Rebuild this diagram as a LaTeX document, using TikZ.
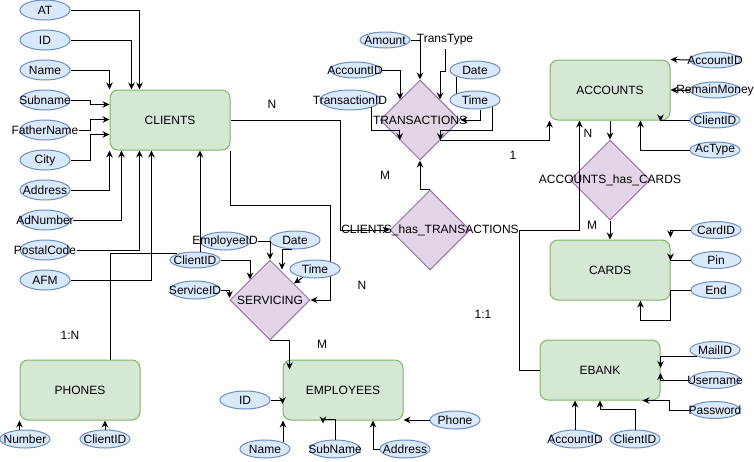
\documentclass[tikz,border=0pt]{standalone}
\usepackage{fontspec}
\setmainfont{Liberation Sans}
\usetikzlibrary{arrows.meta, shapes.geometric}
\definecolor{entfill}{HTML}{D5E8D4}
\definecolor{entline}{HTML}{82B366}
\definecolor{relfill}{HTML}{E1D5E7}
\definecolor{relline}{HTML}{9673A6}
\definecolor{attfill}{HTML}{DAE8FC}
\definecolor{attline}{HTML}{6C8EBF}
\newcommand*{\ovr}[1]{\makebox[0pt]{#1}}

\begin{document}
\begin{tikzpicture}[
        x=1pt, y=-1pt, line width=1pt, >={Stealth[length=7pt,width=6.5pt]},
        every node/.style={font=\fontsize{12}{14}\selectfont},
        entity/.style={draw=entline, fill=entfill, rounded corners=8pt, minimum width=120pt, minimum height=60pt},
        relation/.style={diamond, draw=relline, fill=relfill, minimum width=80pt, minimum height=80pt, inner sep=0pt},
        attr/.style={ellipse, draw=attline, fill=attfill, minimum width=50pt, minimum height=18pt, inner sep=0pt},
        ]
        \path[use as bounding box, fill=white] (0,0) rectangle (754,461);

        % entities
        \node[entity] (clients)   at (170,120) {CLIENTS};
        \node[entity] (accounts)  at (610,90)  {ACCOUNTS};
        \node[entity] (cards)     at (610,270) {CARDS};
        \node[entity] (ebank)     at (600,370) {EBANK};
        \node[entity] (phones)    at (80,390)  {PHONES};
        \node[entity] (employees) at (343,390) {EMPLOYEES};

        % relations
        \node[relation] (transactions)  at (420,120) {\ovr{TRANSACTIONS}};
        \node[relation] (clients_trans) at (430,230) {\ovr{CLIENTS\_has\_TRANSACTIONS}};
        \node[relation] (acc_cards)     at (610,180) {\ovr{ACCOUNTS\_has\_CARDS}};
        \node[relation] (servicing)     at (270,300) {\ovr{SERVICING}};

        % clients attributes
        \node[attr, minimum height=20pt] (c_at)         at (45,10)  {\ovr{AT}};
        \node[attr, minimum height=20pt] (c_id)         at (45,40)  {\ovr{ID}};
        \node[attr, minimum height=20pt] (c_name)       at (45,70)  {\ovr{Name}};
        \node[attr, minimum height=20pt] (c_subname)    at (45,100) {\ovr{Subname}};
        \node[attr, minimum height=20pt] (c_fathername) at (45,130) {\ovr{FatherName}};
        \node[attr, minimum height=20pt] (c_city)       at (45,160) {\ovr{City}};
        \node[attr, minimum height=20pt] (c_address)    at (45,190) {\ovr{Address}};
        \node[attr, minimum height=20pt] (c_adnumber)   at (45,220) {\ovr{AdNumber}};
        \node[attr, minimum height=20pt] (c_postalcode) at (45,250) {\ovr{PostalCode}};
        \node[attr, minimum height=20pt] (c_afm)        at (45,280) {\ovr{AFM}};

        \draw[->] (c_at.east) -| ([xshift=30pt]clients.north west);
        \draw[->] (c_id.east) -| ([xshift=22pt]clients.north west);
        \draw[->] (c_name.east) -| (clients.north west);
        \draw[->] (c_subname.east) -- ++(20,0) |- ([yshift=-15pt]clients.north west);
        \draw[->] ([xshift=8pt]c_fathername.east) -- ++(12,0) |- ([yshift=-30pt]clients.north west);
        \draw[->] (c_city.east) -- ++(20,0) |- ([yshift=-45pt]clients.north west);
        \draw[->] (c_address.east) -| (clients.south west);
        \draw[->] ([xshift=2pt]c_adnumber.east) -| ([xshift=12pt]clients.south west);
        \draw[->] ([xshift=6pt]c_postalcode.east) -| ([xshift=30pt]clients.south west);
        \draw[->] (c_afm.east) -| ([xshift=42pt]clients.south west);

        % transactions attributes
        \node[attr, minimum height=16pt] (t_amount) at (385,40) {\ovr{Amount}};
        \node (t_transtype) at (445,40) {TransType};
        \node[attr, minimum height=16pt] (t_accountid) at (355,70) {\ovr{AccountID}};
        \node[attr, minimum width=60pt, minimum height=20pt] (t_transid) at (350,100) {\ovr{TransactionID}};
        \node[attr] (t_date) at (475,70) {\ovr{Date}};

        \draw[->] (t_amount.east) -| (transactions.north);
        \draw[->] (t_transtype.south) -- ++(0,22) -| ([xshift=20pt,yshift=-20pt]transactions.north);
        \draw[->] (t_accountid.east) -| ([xshift=-20pt,yshift=-20pt]transactions.north);
        \draw[->] (t_transid.south east) |- ([yshift=10pt]transactions.south west) -- (transactions.south west);
        \draw[->] (t_date.south west) -- ++(0,25) -- ++(36,0) |- ([yshift=10pt]transactions.south east) -- (transactions.south east);
        \node[attr] (t_time) at (475,100) {\ovr{Time}};
        \draw[->] ([xshift=5pt]t_time.south) |- (transactions.east);

        % accounts attributes
        \node[attr, minimum height=16pt] (a_accountid) at (715,60)  {\ovr{AccountID}};
        \node[attr, minimum height=16pt] (a_remain)    at (715,90)  {\ovr{RemainMoney}};
        \node[attr, minimum height=16pt] (a_clientid)  at (715,120) {\ovr{ClientID}};
        \node[attr, minimum height=16pt] (a_actype)    at (715,150) {\ovr{AcType}};

        \draw[->] (a_accountid.west) -- (accounts.north east);
        \draw[->] (a_remain.west) -- (accounts.east);
        \draw[->] (a_clientid.west) -| ([xshift=-10pt,yshift=-1pt]accounts.south east);
        \draw[->] (a_actype.west) -| ([xshift=-30pt]accounts.south east);

        % cards attributes
        \node[attr, minimum height=17pt] (k_cardid) at (716,230) {\ovr{CardID}};
        \node[attr, minimum height=17pt] (k_pin)    at (716,260) {\ovr{Pin}};
        \node[attr, minimum height=17pt] (k_end)    at (716,290) {\ovr{End}};

        \draw[->] (k_cardid.west) -| ([yshift=2pt]cards.north east);
        \draw[->] (k_pin.west) -| ([yshift=-21pt]cards.north east);
        \draw[->] (k_end.west) -- ++(-20,0) -- ++(0,30) -| ([xshift=-30pt]cards.south east);

        % ebank attributes
        \node[attr, minimum height=17pt] (e_mailid)    at (715,350) {\ovr{MailID}};
        \node[attr, minimum height=17pt] (e_username)  at (715,380) {\ovr{Username}};
        \node[attr, minimum height=17pt] (e_password)  at (715,410) {\ovr{Password}};
        \node[attr] (e_accountid) at (575,439) {\ovr{AccountID}};
        \node[attr] (e_clientid)  at (635,439) {\ovr{ClientID}};

        \draw[->] (e_mailid.south west) -| ([yshift=2pt]ebank.east);
        \draw[->] (e_username.west) -| ([yshift=-3pt]ebank.east);
        \draw[->] (e_password.west) -- ++(-20,0) |- ([xshift=-18pt]ebank.south east);
        \draw[->] (e_accountid) -- (e_accountid |- ebank.south);
        \draw[->] (e_clientid.north) -- ++(0,-20) -| (ebank.south);

        % employees attributes
        \node[attr] (m_id)      at (245,400) {\ovr{ID}};
        \node[attr] (m_name)    at (265,449) {\ovr{Name}};
        \node[attr] (m_subname) at (335,449) {\ovr{SubName}};
        \node[attr] (m_address) at (405,449) {\ovr{Address}};
        \node[attr] (m_phone)   at (455,420) {\ovr{Phone}};

        \draw[->] (m_id.east) -| ([yshift=-14pt]employees.west);
        \draw[->] (m_name.north east) -- (m_name.north east |- employees.south);
        \draw[->] (m_subname.north) -- ++(0,-20) -| ([xshift=-20pt,yshift=-3pt]employees.south);
        \draw[->] (m_address.west) -| ([xshift=30pt]employees.south);
        \draw[->] (m_phone.west) -- (m_phone.west -| employees.east);

        % phones attributes
        \node[attr] (p_number)   at (25,439)  {\ovr{Number}};
        \node[attr] (p_clientid) at (105,439) {\ovr{ClientID}};

        \draw[->] (phones.south west |- p_number.north) -- (phones.south west);
        \draw[->] (p_clientid) -- (p_clientid |- phones.south);

        % servicing attributes
        \node[attr] (s_employeeid) at (225,241) {\ovr{EmployeeID}};
        \node[attr] (s_date)       at (295,240) {\ovr{Date}};
        \node[attr, minimum height=16pt] (s_clientid) at (195,260) {\ovr{ClientID}};
        \node[attr] (s_serviceid)  at (195,290) {\ovr{ServiceID}};

        \draw[->] ([xshift=7pt]s_employeeid.east) -| (servicing.north);
        \draw[->] (s_date.250) -| ([xshift=12pt,yshift=-10pt]servicing.north);
        \draw[->] (s_clientid.east) -| ([xshift=-20pt,yshift=-20pt]servicing.north);
        \draw[->] (s_serviceid.east) -| ([yshift=2pt]servicing.west);
        \draw[->] ([xshift=5pt]s_clientid.north) -- ([xshift=5pt]s_clientid.north |- clients.south);
        \draw ([xshift=30pt]phones.north) |- (s_clientid.north west);

        % relationship links
        \draw[->] (clients.east) -- ++(110,0) |- (clients_trans.west);
        \draw[->] (clients.south east) -- ++(0,55) -- ++(100,0) |- (servicing.east);
        \node[attr] (s_time) at (315,269) {\ovr{Time}};
        \draw[->] (s_time) -- (servicing);
        \draw[->] (clients_trans.north) -- ++(-10,0) -- (transactions.south);
        \draw[->] (transactions.south east) -| (accounts.south west);
        \draw[->] (ebank.west) -- ++(-20,0) -- ++(0,-140) -| ([xshift=30pt]accounts.south west);
        \draw[->] (accounts.south) -- (acc_cards.north);
        \draw[->] (acc_cards.south) -- (cards.north);
        \draw[->] (servicing.south) -| ([xshift=7pt,yshift=-10pt]employees.north west);

        % cardinalities
        \node (n_clients)   at (272,104) {N};
        \node (one_acc)     at (513,155) {1};
        \node (m_trans)     at (385,175) {M};
        \node (n_acc)       at (588,133) {N};
        \node (m_cards)     at (592,225) {M};
        \node (n_serv)      at (362,285) {N};
        \node (m_emp)       at (322,344) {M};
        \node (one_ebank)   at (483,314) {1:1};
        \node (onen_phones) at (70,335)  {1:N};
      \end{tikzpicture}
\end{document}
